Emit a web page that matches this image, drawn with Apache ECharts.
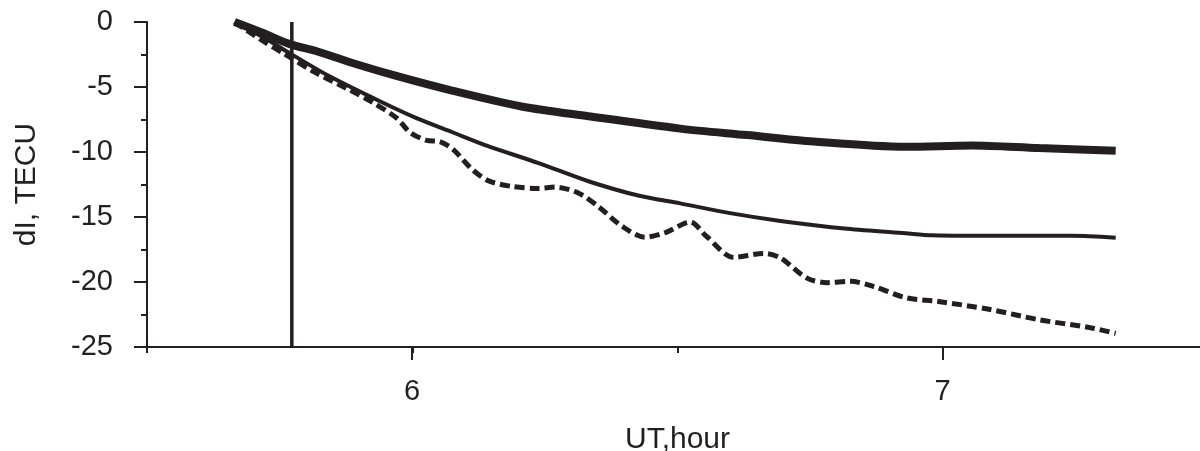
<!DOCTYPE html>
<html>
<head>
<meta charset="utf-8">
<style>
  html, body { margin: 0; padding: 0; background: #ffffff; }
  #chart { width: 1200px; height: 451px; }
</style>
<script src="https://cdn.jsdelivr.net/npm/echarts@6/dist/echarts.min.js"></script>
</head>
<body>
<div id="chart"></div>
<script>
// Data: [UT hour, dI (TECU)]
const thickLine = [
  [5.665, 0], [5.719, -0.85], [5.769, -1.7], [5.82, -2.25], [5.895, -3.25],
  [5.97, -4.15], [6.077, -5.3], [6.206, -6.5], [6.332, -7.25], [6.505, -8.2],
  [6.631, -8.7], [6.757, -9.2], [6.93, -9.6], [7.055, -9.5], [7.181, -9.7],
  [7.326, -9.9]
];
const thinLine = [
  [5.665, 0], [5.72, -1.2], [5.775, -2.55], [5.845, -4.2], [5.939, -6.1],
  [6.008, -7.4], [6.077, -8.5], [6.143, -9.55], [6.238, -10.85], [6.332, -12.25],
  [6.426, -13.35], [6.505, -13.95], [6.599, -14.7], [6.694, -15.3], [6.82, -15.9],
  [6.93, -16.25], [6.98, -16.4], [7.118, -16.45], [7.244, -16.45], [7.326, -16.6]
];
const dashedLine = [
  [5.665, 0], [5.72, -1.5], [5.757, -2.4], [5.813, -3.8], [5.876, -5.1],
  [5.926, -6.2], [5.971, -7.4], [5.996, -8.5], [6.027, -9.1], [6.052, -9.2],
  [6.077, -9.8], [6.112, -11.3], [6.143, -12.2], [6.188, -12.65], [6.238, -12.8],
  [6.269, -12.7], [6.313, -13.15], [6.351, -14.2], [6.395, -15.7], [6.439, -16.55],
  [6.477, -16.2], [6.524, -15.4], [6.555, -16.5], [6.606, -18.1], [6.662, -17.8],
  [6.694, -18.15], [6.744, -19.7], [6.782, -20.05], [6.826, -19.95], [6.87, -20.35],
  [6.93, -21.2], [6.992, -21.5], [7.087, -22.1], [7.181, -22.9], [7.276, -23.5],
  [7.326, -23.95]
];
const eventLine = [[5.773, 0], [5.773, -25]];
const yTickLabels = ['0', '-5', '-10', '-15', '-20', '-25'];
const xTickLabels = ['6', '7'];

const INK = '#231f20';
const FONT = "'Liberation Sans', Arial, Helvetica, sans-serif";

const chart = echarts.init(document.getElementById('chart'), null, { renderer: 'canvas' });
chart.setOption({
  animation: false,
  backgroundColor: '#ffffff',
  grid: [
    { left: 147, width: 1061, top: 22, height: 325, outerBoundsMode: 'none', containLabel: false },
    { left: 412, width: 796, top: 22, height: 325, outerBoundsMode: 'none', containLabel: false }
  ],
  xAxis: [
    {
      type: 'value', gridIndex: 0, min: 5.5, max: 7.5, interval: 0.5,
      name: 'UT,hour', nameLocation: 'middle', nameGap: 78,
      nameTextStyle: { color: INK, fontSize: 30, fontFamily: FONT },
      axisLine: { show: true, onZero: false, lineStyle: { color: INK, width: 2 } },
      axisTick: { show: true, length: 6, lineStyle: { color: INK, width: 2 } },
      axisLabel: { show: false },
      splitLine: { show: false }
    },
    {
      type: 'value', gridIndex: 1, min: 6, max: 7.5, interval: 1,
      axisLine: { show: false, onZero: false },
      axisTick: { show: true, length: 13, lineStyle: { color: INK, width: 2 } },
      axisLabel: {
        show: true, margin: 30, color: INK, fontSize: 29, fontFamily: FONT,
        formatter: function (v) {
          const s = String(Math.round(v));
          return (Math.abs(v - Math.round(v)) < 1e-6 && xTickLabels.indexOf(s) >= 0) ? s : '';
        }
      },
      splitLine: { show: false }
    }
  ],
  yAxis: [
    {
      type: 'value', gridIndex: 0, min: -25, max: 0, interval: 5,
      name: 'dI, TECU', nameLocation: 'middle', nameGap: 105,
      nameTextStyle: { color: INK, fontSize: 30, fontFamily: FONT },
      axisLine: { show: true, onZero: false, lineStyle: { color: INK, width: 2 } },
      axisTick: { show: true, length: 13, lineStyle: { color: INK, width: 2 } },
      minorTick: { show: true, splitNumber: 2, length: 6, lineStyle: { color: INK, width: 2 } },
      axisLabel: {
        show: true, margin: 34, color: INK, fontSize: 29, fontFamily: FONT,
        formatter: function (v) {
          const s = String(Math.round(v));
          return yTickLabels.indexOf(s) >= 0 ? s : '';
        }
      },
      splitLine: { show: false },
      minorSplitLine: { show: false }
    },
    {
      type: 'value', gridIndex: 1, min: -25, max: 0, show: false
    }
  ],
  series: [
    {
      type: 'line', xAxisIndex: 0, yAxisIndex: 0, data: dashedLine,
      showSymbol: false, smooth: 0.3, silent: true, z: 2,
      lineStyle: { color: INK, width: 5, type: [10, 5], cap: 'butt' }
    },
    {
      type: 'line', xAxisIndex: 0, yAxisIndex: 0, data: thinLine,
      showSymbol: false, smooth: 0.3, silent: true, z: 3,
      lineStyle: { color: INK, width: 4 }
    },
    {
      type: 'line', xAxisIndex: 0, yAxisIndex: 0, data: thickLine,
      showSymbol: false, smooth: 0.3, silent: true, z: 4,
      lineStyle: { color: INK, width: 8 }
    },
    {
      type: 'line', xAxisIndex: 0, yAxisIndex: 0, data: eventLine,
      showSymbol: false, silent: true, z: 5,
      lineStyle: { color: INK, width: 3.5 }
    }
  ]
});
</script>
</body>
</html>
